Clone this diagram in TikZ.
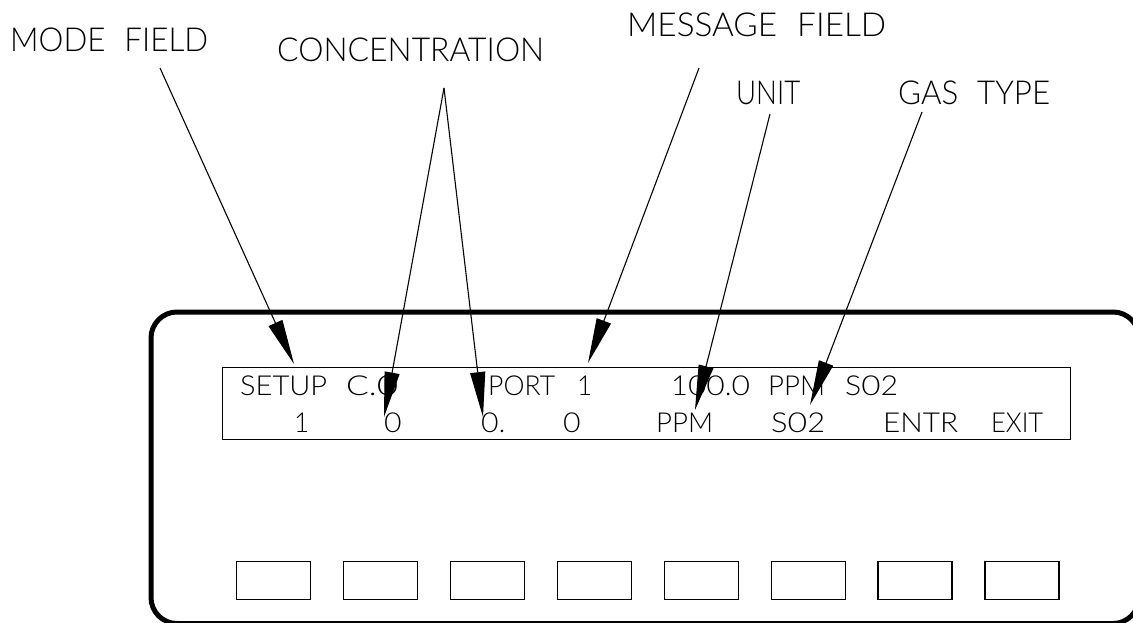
\documentclass[tikz,border=0pt]{standalone}
\usepackage{fontspec}
\newfontfamily\cadfont{Lato}[UprightFont=* Light]
\usetikzlibrary{arrows.meta}
\tikzset{
  lead/.style={line width=1.1pt, -{Triangle[length=45pt,width=15pt]}},
  toplbl/.style={anchor=base west, inner sep=0pt, font=\fontsize{33}{34}\cadfont},
  disp/.style={anchor=base west, inner sep=0pt, font=\fontsize{27.5}{28}\cadfont},
  keybox/.style={draw, line width=1.2pt, minimum width=74pt, minimum height=38pt, inner sep=0pt, anchor=north west},
  panel/.style={line width=5pt, rounded corners=26pt},
  screen/.style={draw, line width=1.2pt, minimum width=848pt, minimum height=72pt, inner sep=0pt, anchor=north west}
}
\newcommand\fitw[2]{\resizebox{#1pt}{\height}{#2}}
\newcommand\sq[1]{\scalebox{0.95}[1]{#1}}
\newcommand\zr{\scalebox{1.1}[1]{0}}
\begin{document}
\begin{tikzpicture}[x=1pt,y=-1pt]
\useasboundingbox (0,0) rectangle (1133,623);
% panel
\draw[panel] (151,312) rectangle (1139,623.5);
\node[screen] (display) at (222,367) {};
\foreach \i in {0,...,7} \node[keybox] (k\i) at ({236+\i*106.9},561) {};
% display text row 1
\node[disp] (r1a) at (240,395) {\fitw{87}{SETUP}};
\node[disp] (r1b) at (346,395) {\fitw{52}{C.\zr}};
\node[disp] (r1c) at (488,395) {\fitw{67}{PORT}};
\node[disp] (r1d) at (577,395) {\sq{1}};
\node[disp] (r1e) at (671,395) {\fitw{79}{1\zr\zr.\zr}};
\node[disp] (r1f) at (768,395) {\fitw{57}{PPM}};
\node[disp] (r1g) at (845,395) {\fitw{53}{S\zr2}};
% display text row 2
\node[disp] (r2a) at (294,432) {\sq{1}};
\node[disp] (r2b) at (384,432) {\zr};
\node[disp] (r2c) at (481,432) {\zr.};
\node[disp] (r2d) at (563,432) {\zr};
\node[disp] (r2e) at (656,432) {\fitw{57}{PPM}};
\node[disp] (r2f) at (771,432) {\fitw{54}{S\zr2}};
\node[disp] (r2g) at (883,432) {\fitw{75}{ENTR}};
\node[disp] (r2h) at (991,432) {\fitw{52}{EXIT}};
% top labels
\node[toplbl] (mode) at (10,52) {\fitw{198}{MODE\hspace{0.6em}FIELD}};
\node[toplbl] (conc) at (277,62) {\fitw{267}{CONCENTRATION}};
\node[toplbl] (msg) at (627,37) {\fitw{259}{MESSAGE\hspace{0.6em}FIELD}};
\node[toplbl] (unit) at (736,105) {\fitw{64}{UNIT}};
\node[toplbl] (gas) at (898,105) {\fitw{152}{GAS\hspace{0.6em}TYPE}};
% leader coordinates
\coordinate (modeS) at (160,68);
\coordinate (modeT) at (294,364);
\coordinate (concS) at (444,88);
\coordinate (concT1) at (384,417);
\coordinate (concT2) at (483,417);
\coordinate (msgS) at (699,68);
\coordinate (msgT) at (588,363);
\coordinate (unitS) at (770,114);
\coordinate (unitT) at (695,410);
\coordinate (gasS) at (922,112);
\coordinate (gasT) at (810,405);
\draw[lead] (modeS) -- (modeT);
\draw[lead] (concS) -- (concT1);
\draw[lead] (concS) -- (concT2);
\draw[lead] (msgS) -- (msgT);
\draw[lead] (unitS) -- (unitT);
\draw[lead] (gasS) -- (gasT);
\end{tikzpicture}
\end{document}
